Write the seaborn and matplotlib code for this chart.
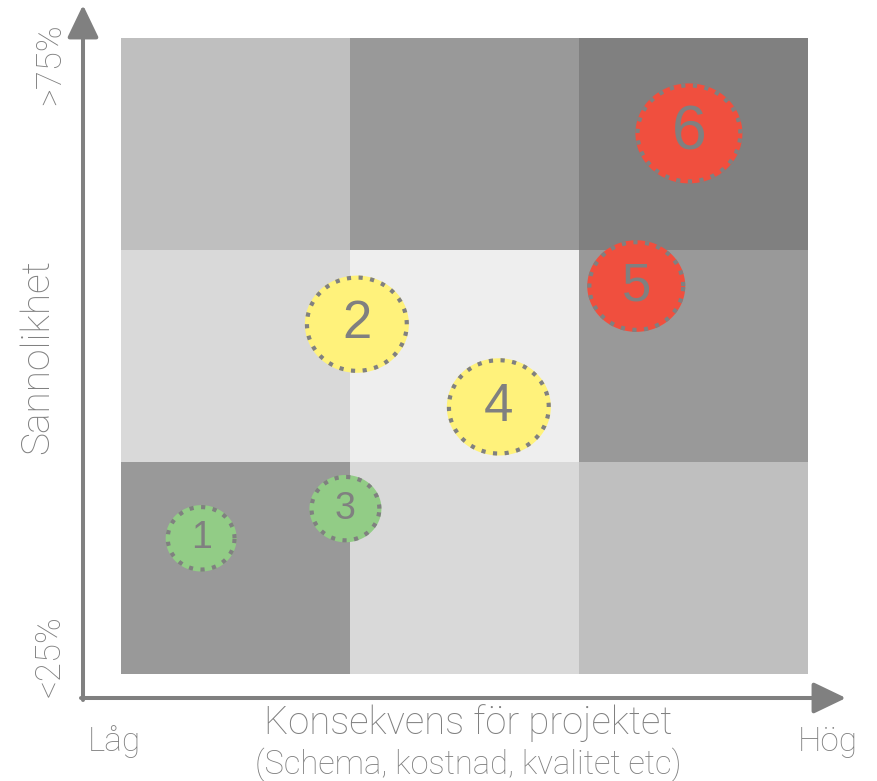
import numpy as np
import pandas as pd
import matplotlib
matplotlib.use("Agg")
import matplotlib.pyplot as plt
from matplotlib.colors import ListedColormap
from matplotlib.path import Path
import seaborn as sns

# Risk matrix cells (rows listed bottom -> top, columns low -> high consequence)
cell_levels = [
    [3, 1, 2],
    [1, 0, 3],
    [2, 3, 4],
]
level_colors = ["#eeeeee", "#d9d9d9", "#bfbfbf", "#999999", "#808080"]

# Risks: consequence (x) and likelihood (y) in grid units 0..3
risk_ids = ["1", "2", "3", "4", "5", "6"]
consequence = [0.35, 1.03, 0.98, 1.65, 2.25, 2.48]
likelihood = [0.64, 1.65, 0.78, 1.26, 1.83, 2.55]
risk_class = ["låg", "medel", "låg", "medel", "hög", "hög"]
class_colors = {"låg": "#92cc86", "medel": "#fff27b", "hög": "#f04f3e"}

x_title = "Konsekvens för projektet"
x_subtitle = "(Schema, kostnad, kvalitet etc)"
y_title = "Sannolikhet"
x_low, x_high = "Låg", "Hög"
y_low, y_high = "<25%", ">75%"

# marker outer widths (px) and label font sizes per risk
marker_w = [71, 104, 72, 104, 98, 107]
label_fs = [27, 38, 27, 38, 38, 45]

W, H = 878, 781
GREY = "#808080"
RING_LW = 3.0  # pt

sns.set_theme(style="white")
plt.rcParams["font.family"] = ["Roboto", "DejaVu Sans"]

fig = plt.figure(figsize=(W / 100, H / 100), dpi=100)


def px(x, y):
    # pixel coords from top-left -> figure fraction
    return x / W, 1 - y / H


ax = fig.add_axes([121 / W, (H - 674) / H, 687 / W, 636 / H])
sns.heatmap(np.array(cell_levels), cmap=ListedColormap(level_colors), vmin=0, vmax=4,
            cbar=False, linewidths=0, ax=ax)
ax.invert_yaxis()
ax.set_xticks([])
ax.set_yticks([])
ax.set_xlim(0, 3)
ax.set_ylim(0, 3)

df = pd.DataFrame({"id": risk_ids, "x": consequence, "y": likelihood, "klass": risk_class})

# slightly wide ellipse as marker
t = np.linspace(0, 2 * np.pi, 120)
ell = Path(np.column_stack([1.07 * np.cos(t), np.sin(t)]), closed=True)

w = np.array(marker_w, dtype=float)
fill_s = (w * 0.72) ** 2
ring_s = ((w - RING_LW / 0.72) * 0.72) ** 2

sns.scatterplot(data=df, x="x", y="y", hue="klass", palette=class_colors, s=fill_s,
                marker=ell, linewidth=0, legend=False, ax=ax, zorder=3)
ax.scatter(df["x"], df["y"], s=ring_s, marker=ell, facecolors="none", edgecolors=GREY,
           linewidths=RING_LW, linestyle=(0, (1, 1.8)), zorder=3.5)

for i, row in df.iterrows():
    ax.text(row["x"], row["y"], row["id"], ha="center", va="center", color=GREY,
            fontsize=label_fs[i], family="Liberation Sans", zorder=4)
ax.set_xlabel("")
ax.set_ylabel("")
for s in ax.spines.values():
    s.set_visible(False)

# axis arrows
arrow = dict(arrowstyle="-|>,head_length=1.0,head_width=0.48", color=GREY, lw=2.9,
             shrinkA=0, shrinkB=0, mutation_scale=20)
ax.annotate("", xy=px(83, 5), xytext=px(83, 700), xycoords="figure fraction",
            textcoords="figure fraction", arrowprops=arrow, annotation_clip=False)
ax.annotate("", xy=px(846, 698), xytext=px(81, 698), xycoords="figure fraction",
            textcoords="figure fraction", arrowprops=arrow, annotation_clip=False)

txt = dict(ha="center", va="center", color=GREY, fontweight="light")
fig.text(*px(50, 64), y_high, rotation=90, fontsize=25, **txt)
fig.text(*px(50, 656), y_low, rotation=90, fontsize=25, **txt)
fig.text(*px(37, 357), y_title, rotation=90, fontsize=28, **txt)
fig.text(*px(468, 723), x_title, fontsize=27.5, **txt)
fig.text(*px(468, 765), x_subtitle, fontsize=23.5, **txt)
fig.text(*px(114, 742), x_low, fontsize=24, **txt)
fig.text(*px(828, 742), x_high, fontsize=24, **txt)

fig.savefig("out.png", dpi=100)
